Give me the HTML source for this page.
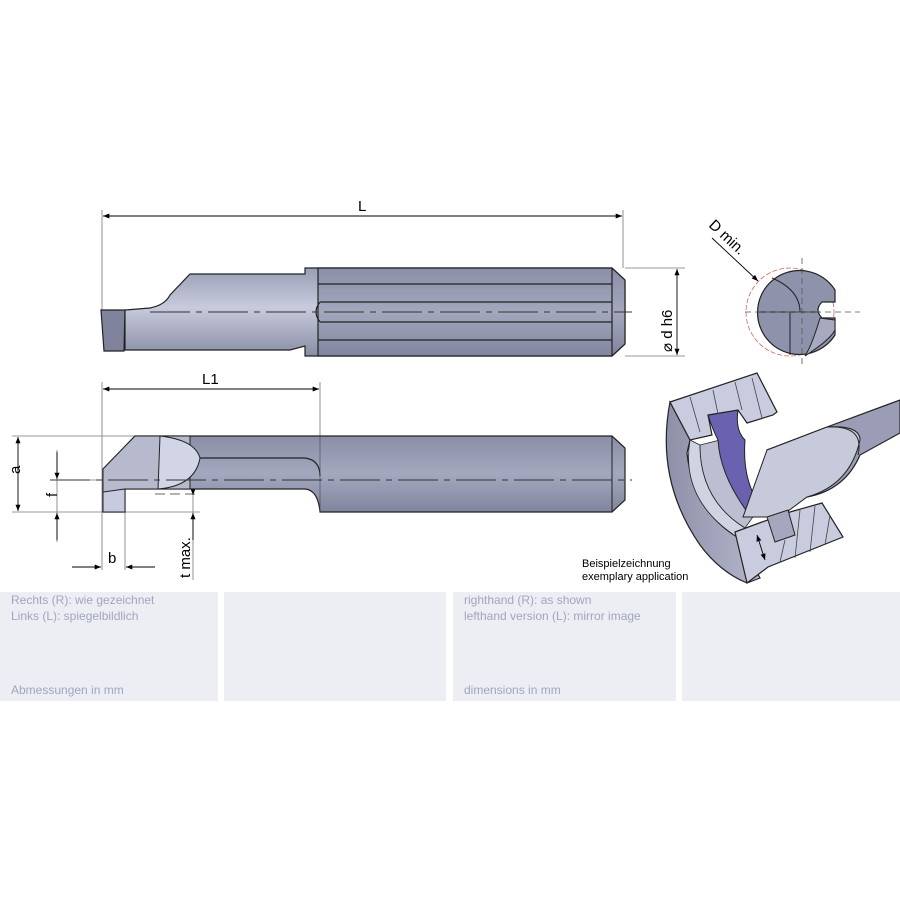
<!DOCTYPE html>
<html><head><meta charset="utf-8"><style>
html,body{margin:0;padding:0;background:#fff;width:900px;height:900px;overflow:hidden}
.t{font-family:"Liberation Sans",sans-serif;}
</style></head><body>
<svg width="900" height="900" viewBox="0 0 900 900" xmlns="http://www.w3.org/2000/svg">
<defs>
<marker id="a" viewBox="0 0 10 10" refX="10" refY="5" markerWidth="9" markerHeight="7" orient="auto-start-reverse"><path d="M0,1 L10,5 L0,9 z" fill="#000"/></marker>
<linearGradient id="sh" x1="0" y1="0" x2="0" y2="1"><stop offset="0" stop-color="#8a8ea6"/><stop offset="0.5" stop-color="#a4a8bf"/><stop offset="1" stop-color="#80849c"/></linearGradient>
<linearGradient id="nk" x1="0" y1="0" x2="0" y2="1"><stop offset="0" stop-color="#9a9eb6"/><stop offset="0.45" stop-color="#c8cbdc"/><stop offset="1" stop-color="#8a8ea6"/></linearGradient>
<linearGradient id="rg" x1="0" y1="0" x2="1" y2="0"><stop offset="0" stop-color="#8d90a8"/><stop offset="1" stop-color="#b4b7cb"/></linearGradient>
</defs>
<g stroke="#777" stroke-width="0.8" fill="none">
<line x1="102" y1="210" x2="102" y2="312"/><line x1="623" y1="210" x2="623" y2="268"/>
<line x1="625" y1="268" x2="685" y2="268"/><line x1="625" y1="356" x2="685" y2="356"/>
<line x1="102" y1="382" x2="102" y2="570"/><line x1="320" y1="382" x2="320" y2="436"/>
<line x1="12" y1="436" x2="135" y2="436"/><line x1="12" y1="512" x2="200" y2="512"/>
<line x1="52" y1="480" x2="200" y2="480"/><line x1="125" y1="512" x2="125" y2="570"/>
<line x1="193" y1="480" x2="193" y2="580"/><line x1="57" y1="450" x2="57" y2="542"/>
</g>
<g stroke="#000" stroke-width="0.9" marker-start="url(#a)" marker-end="url(#a)">
<line x1="103" y1="216" x2="622" y2="216"/>
<line x1="677" y1="269" x2="677" y2="355"/>
<line x1="103" y1="389" x2="319" y2="389"/>
<line x1="18" y1="437" x2="18" y2="511"/>
</g>
<g stroke="#000" stroke-width="0.9" marker-end="url(#a)">
<line x1="57" y1="452" x2="57" y2="479"/><line x1="57" y1="540" x2="57" y2="513"/>
<line x1="72" y1="567" x2="101" y2="567"/><line x1="155" y1="567" x2="126" y2="567"/>
<line x1="193" y1="470" x2="193" y2="495"/><line x1="193" y1="540" x2="193" y2="513"/>
<line x1="712" y1="238" x2="758" y2="281"/>
</g>
<g class="t" font-size="15" fill="#000">
<text x="358" y="211">L</text><text x="202" y="384">L1</text>
<text x="14" y="480" transform="rotate(-90 14 474)">a</text>
<text x="52" y="502" transform="rotate(-90 52 497)">f</text>
<text x="108" y="563">b</text>
<text x="190" y="578" transform="rotate(-90 190 578)">t max.</text>
<text x="672" y="352" transform="rotate(-90 672 352)">⌀ d h6</text>
<text x="708" y="226" transform="rotate(43 708 226)">D min.</text>
</g>
<!-- top tool -->
<path d="M305,268 L612,268 L625,280 L625,344 L612,356 L305,356 L305,346 L290,350 L125,350 L125,310 L150,308 Q165,305 170,295 L190,274 L305,274 Z" fill="url(#nk)" stroke="#222" stroke-width="1.2"/>
<path d="M318,268 L612,268 L625,280 L625,344 L612,356 L318,356 Z" fill="url(#sh)" stroke="#222" stroke-width="1.2"/>
<g stroke="#222" stroke-width="1.2" fill="none"><line x1="318" y1="284" x2="612" y2="284"/><line x1="318" y1="340" x2="612" y2="340"/>
<path d="M612,268 L612,356"/><path d="M320,302 L612,302 M320,322 L612,322"/><path d="M320,302 Q312,312 320,322"/></g>
<path d="M101,310 L125,310 L124,351 L104,351 Z" fill="#7f839b" stroke="#222" stroke-width="1.2"/>
<line x1="150" y1="312" x2="632" y2="312" stroke="#333" stroke-width="0.9" stroke-dasharray="40,6,6,6"/>
<!-- bottom tool -->
<path d="M103,469 L135,436 L612,436 L625,448 L625,500 L612,512 L320,512 Q318,490 305,489 L125,489 L125,512 L103,512 Z" fill="url(#sh)" stroke="#222" stroke-width="1.2"/>
<path d="M103,469 L135,436 L190,436 L190,489 L125,489 L125,512 L103,512 Z" fill="#b7bacd" stroke="#222" stroke-width="1"/>
<path d="M160,436 Q195,440 200,458 Q195,486 158,489 Z" fill="#d2d5e6" stroke="#222" stroke-width="1"/>
<path d="M200,458 L305,458 Q320,460 320,476" fill="none" stroke="#222" stroke-width="1.2"/>
<path d="M103,512 L125,512 L125,489 L103,492 Z" fill="#c8cbe0" stroke="#222" stroke-width="1"/>
<line x1="612" y1="436" x2="612" y2="512" stroke="#222"/>
<line x1="320" y1="436" x2="320" y2="512" stroke="#444" stroke-width="0.6"/>
<line x1="50" y1="480" x2="632" y2="480" stroke="#333" stroke-width="0.9" stroke-dasharray="40,6,6,6"/>
<line x1="155" y1="494" x2="200" y2="494" stroke="#333" stroke-width="0.8" stroke-dasharray="10,5"/>
<!-- end view -->
<circle cx="790" cy="312" r="44" fill="none" stroke="#e06060" stroke-width="0.8" stroke-dasharray="5,2"/>
<path d="M835,290 L835,302 L822,302 Q814,310 822,318 L835,318 L835,335 A42,42 0 1,1 835,290 Z" fill="#8e92aa" stroke="#222" stroke-width="1.2"/>
<path d="M758,312 L820,312 M790,312 L790,355 M772,278 Q800,290 800,312" fill="none" stroke="#222" stroke-width="1"/>
<path d="M805,356 Q830,340 835,330 L835,320 L820,318 Q812,345 805,356 Z" fill="#a6a9c0" stroke="#222" stroke-width="1"/>
<g stroke="#555" stroke-width="0.8" stroke-dasharray="6,4"><line x1="802" y1="258" x2="802" y2="368"/><line x1="745" y1="312" x2="860" y2="312"/></g>
<!-- application illustration -->
<path d="M670,402 Q655,480 700,545 Q720,572 747,583 L760,578 L737,537 Q693,510 687,453 L690,440 Z" fill="url(#rg)" stroke="#222" stroke-width="1.2"/>
<path d="M690,440 Q680,500 737,537 L745,528 Q700,500 700,445 Z" fill="#d0d3e2" stroke="#222" stroke-width="0.8"/>
<path d="M700,445 Q700,500 745,528 L760,507 Q730,480 720,440 Z" fill="#bcbfd2" stroke="#222" stroke-width="0.8"/>
<path d="M708,415 L738,410 Q735,430 745,440 Q742,480 760,505 L748,513 Q720,475 718,440 Q712,428 708,415 Z" fill="#6a62b0" stroke="#222" stroke-width="1"/>
<path d="M670,402 L757,373 L777,412 L773,415 L747,423 L738,410 L708,415 L712,435 L690,440 Z" fill="#c9cbde" stroke="#222" stroke-width="1.2"/>
<g stroke="#444" stroke-width="0.8"><line x1="690" y1="397" x2="700" y2="432"/><line x1="713" y1="390" x2="718" y2="414"/><line x1="735" y1="382" x2="742" y2="410"/><line x1="752" y1="378" x2="762" y2="418"/></g>
<path d="M900,400 L900,433 L860,455 Q845,490 807,497 L790,505 L767,450 L827,427 Z" fill="#9a9db5" stroke="#222" stroke-width="1.2"/>
<path d="M767,450 L827,427 Q860,425 860,440 Q850,485 807,497 L780,517 L743,517 Z" fill="#c7cadb" stroke="#222" stroke-width="1"/>
<path d="M827,427 Q865,425 858,455" fill="none" stroke="#222" stroke-width="1"/>
<path d="M735,532 L762,522 L790,512 L822,503 L843,537 L768,567 L747,583 Z" fill="#c9cbde" stroke="#222" stroke-width="1.2"/>
<path d="M767,517 L788,510 L795,535 L775,542 Z" fill="#a4a7bd" stroke="#222" stroke-width="1"/>
<g stroke="#444" stroke-width="0.8"><line x1="800" y1="510" x2="795" y2="558"/><line x1="815" y1="506" x2="810" y2="552"/><line x1="830" y1="515" x2="825" y2="545"/><line x1="785" y1="540" x2="780" y2="562"/></g>
<g stroke="#000" stroke-width="0.9" marker-start="url(#a)" marker-end="url(#a)"><line x1="757" y1="535" x2="765" y2="560"/></g>
<text class="t" x="582" y="567" font-size="11" fill="#000">Beispielzeichnung</text>
<text class="t" x="582" y="580" font-size="11" fill="#000">exemplary application</text>
<!-- table -->
<g fill="#eceef4"><rect x="0" y="592" width="218" height="109"/><rect x="224" y="592" width="222" height="109"/><rect x="453" y="592" width="223" height="109"/><rect x="682" y="592" width="218" height="109"/></g>
<g class="t" font-size="12" fill="#a0a5c0">
<text x="11" y="604">Rechts (R): wie gezeichnet</text><text x="11" y="620">Links (L): spiegelbildlich</text><text x="11" y="694">Abmessungen in mm</text>
<text x="464" y="604">righthand (R): as shown</text><text x="464" y="620">lefthand version (L): mirror image</text><text x="464" y="694">dimensions in mm</text>
</g>
</svg>
</body></html>
